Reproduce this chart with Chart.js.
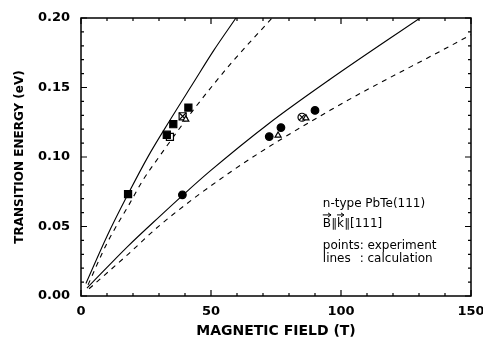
<!DOCTYPE html>
<html>
<head>
<meta charset="utf-8">
<script src="https://cdn.jsdelivr.net/npm/chart.js@4"></script>
<style>
  body { margin: 0; background: #fff; }
</style>
</head>
<body>
<canvas id="myChart" width="483" height="341"></canvas>
<script>
// calculated curves (field in T, energy in eV)
let upSolidT = [1.9, 10, 18.1, 26, 34.2, 43.1, 51, 59.6];
let upSolidE = [0.009, 0.043, 0.0733, 0.101, 0.1264, 0.153, 0.1765, 0.200];
let upDashT = [2.7, 10, 18.8, 23.8, 30, 43.1, 58, 73.5];
let upDashE = [0.008, 0.038, 0.0668, 0.0833, 0.100, 0.1336, 0.168, 0.200];
let lowSolidT = [2.3, 18.1, 30.4, 39.2, 49.6, 71.9, 95.8, 130.4];
let lowSolidE = [0.0057, 0.0359, 0.0575, 0.0726, 0.0898, 0.1236, 0.1559, 0.200];
let lowDashT = [3.1, 18.1, 30.4, 58.5, 95.8, 146.4, 150];
let lowDashE = [0.0052, 0.030, 0.051, 0.0905, 0.1336, 0.1843, 0.188];

// experimental points
let sqFilledT = [18.1, 33.0, 35.5, 41.3];
let sqFilledE = [0.0733, 0.1160, 0.1236, 0.1356];
let sqOpenT = [34.2];
let sqOpenE = [0.1145];
let sqCrossT = [39.1];
let sqCrossE = [0.1293];
let circT = [39.0, 72.4, 76.9, 90.0];
let circE = [0.0728, 0.1147, 0.1212, 0.1335];
let circCrossT = [85.0];
let circCrossE = [0.1286];
let triT = [40.3, 75.8, 86.5];
let triE = [0.127, 0.1155, 0.128];

let xTicks = [0, 50, 100, 150];
let yTicks = [0.00, 0.05, 0.10, 0.15, 0.20];

function pts(xs, ys) {
    let out = [];
    for (let i = 0; i < xs.length; i++) out.push({ x: xs[i], y: ys[i] });
    return out;
}

function curve(xs, ys, dashed) {
    return {
        type: 'line',
        data: pts(xs, ys),
        borderColor: '#000',
        borderWidth: 1.1,
        borderDash: dashed ? [5, 5] : [],
        pointRadius: 0,
        cubicInterpolationMode: 'monotone',
        fill: false,
        order: 2
    };
}

function marks(xs, ys, style, radius, filled) {
    return {
        type: 'scatter',
        data: pts(xs, ys),
        pointStyle: style,
        pointRadius: radius,
        pointBorderWidth: 1.2,
        pointBorderColor: '#000',
        pointBackgroundColor: filled ? '#000' : '#fff',
        showLine: false,
        order: 1
    };
}

// frame, inward ticks on all four sides, and the text block
let framePlugin = {
    id: 'frame',
    afterDraw(chart) {
        let ctx = chart.ctx;
        let a = chart.chartArea;
        let xs = chart.scales.x, ys = chart.scales.y;
        ctx.save();
        ctx.strokeStyle = '#000';
        ctx.lineWidth = 1.5;
        ctx.strokeRect(a.left, a.top, a.right - a.left, a.bottom - a.top);
        ctx.lineWidth = 1.2;
        ctx.beginPath();
        for (let v = 0; v <= 150; v += 10) {
            let px = xs.getPixelForValue(v);
            let len = v % 50 === 0 ? 6 : 3;
            ctx.moveTo(px, a.bottom); ctx.lineTo(px, a.bottom - len);
            ctx.moveTo(px, a.top); ctx.lineTo(px, a.top + len);
        }
        for (let k = 0; k <= 20; k++) {
            let py = ys.getPixelForValue(k / 100);
            let len = k % 5 === 0 ? 6 : 3;
            ctx.moveTo(a.left, py); ctx.lineTo(a.left + len, py);
            ctx.moveTo(a.right, py); ctx.lineTo(a.right - len, py);
        }
        ctx.stroke();

        // legend text
        let tx = xs.getPixelForValue(93);
        ctx.fillStyle = '#000';
        ctx.font = '12px "DejaVu Sans"';
        ctx.textBaseline = 'alphabetic';
        ctx.textAlign = 'left';
        let b1 = ys.getPixelForValue(0.0641);
        let b2 = ys.getPixelForValue(0.0497);
        let b3 = ys.getPixelForValue(0.0338);
        let b4 = ys.getPixelForValue(0.0246);
        ctx.fillText('n-type PbTe(111)', tx, b1);

        let parts = ['B', '\u2225', 'k', '\u2225', '[111]'];
        let cx = tx;
        let arrowSpans = [];
        for (let i = 0; i < parts.length; i++) {
            let w = ctx.measureText(parts[i]).width;
            ctx.fillText(parts[i], cx, b2);
            if (parts[i] === 'B' || parts[i] === 'k') arrowSpans.push([cx, cx + w]);
            cx += w;
        }
        ctx.lineWidth = 1;
        for (let s of arrowSpans) {
            let ay = b2 - 12;
            ctx.beginPath();
            ctx.moveTo(s[0], ay); ctx.lineTo(s[1], ay);
            ctx.moveTo(s[1] - 3, ay - 2); ctx.lineTo(s[1], ay); ctx.lineTo(s[1] - 3, ay + 2);
            ctx.stroke();
        }

        ctx.fillText('points: experiment', tx, b3);
        ctx.fillText('lines', tx, b4);
        let colX = tx + ctx.measureText('points').width;
        ctx.fillText(': calculation', colX, b4);
        ctx.restore();
    }
};

let tickFont = { family: 'DejaVu Sans', weight: 'bold', size: 13 };

let ctx = document.getElementById('myChart').getContext('2d');
let myChart = new Chart(ctx, {
    type: 'line',
    data: {
        datasets: [
            marks(triT, triE, 'triangle', 3.5, false),
            marks(sqFilledT, sqFilledE, 'rect', 5, true),
            marks(sqCrossT, sqCrossE, 'crossRot', 5, false),
            marks(sqCrossT, sqCrossE, 'rect', 5, false),
            marks(sqOpenT, sqOpenE, 'rect', 5, false),
            marks(circCrossT, circCrossE, 'crossRot', 4, false),
            marks(circCrossT, circCrossE, 'circle', 4, false),
            marks(circT, circE, 'circle', 3.8, true),
            curve(upSolidT, upSolidE, false),
            curve(upDashT, upDashE, true),
            curve(lowSolidT, lowSolidE, false),
            curve(lowDashT, lowDashE, true)
        ]
    },
    options: {
        responsive: false,
        animation: false,
        layout: { padding: { top: 18, right: 12, left: 0, bottom: 0 } },
        plugins: {
            legend: { display: false },
            tooltip: { enabled: false }
        },
        scales: {
            x: {
                type: 'linear',
                min: 0,
                max: 150,
                afterBuildTicks: (scale) => { scale.ticks = xTicks.map(v => ({ value: v })); },
                afterFit: (scale) => {
                    scale.height = 45;
                    scale.paddingLeft = 0;
                    scale.paddingRight = 0;
                },
                ticks: { color: '#000', font: tickFont, padding: 8, maxRotation: 0 },
                grid: { display: false, drawTicks: false },
                border: { display: false },
                title: {
                    display: true,
                    text: 'MAGNETIC FIELD (T)',
                    color: '#000',
                    font: { family: 'DejaVu Sans', weight: 'bold', size: 14 },
                    padding: { top: 0, bottom: 1 }
                }
            },
            y: {
                type: 'linear',
                min: 0,
                max: 0.2,
                afterBuildTicks: (scale) => { scale.ticks = yTicks.map(v => ({ value: v })); },
                afterFit: (scale) => {
                    scale.width = 81;
                    scale.paddingTop = 0;
                    scale.paddingBottom = 0;
                },
                ticks: {
                    color: '#000',
                    font: tickFont,
                    padding: 11,
                    callback: (v) => Number(v).toFixed(2)
                },
                grid: { display: false, drawTicks: false },
                border: { display: false },
                title: {
                    display: true,
                    text: 'TRANSITION ENERGY (eV)',
                    color: '#000',
                    font: { family: 'DejaVu Sans', weight: 'bold', size: 12 },
                    padding: { top: 13, bottom: 0 }
                }
            }
        }
    },
    plugins: [framePlugin]
});
</script>
</body>
</html>
